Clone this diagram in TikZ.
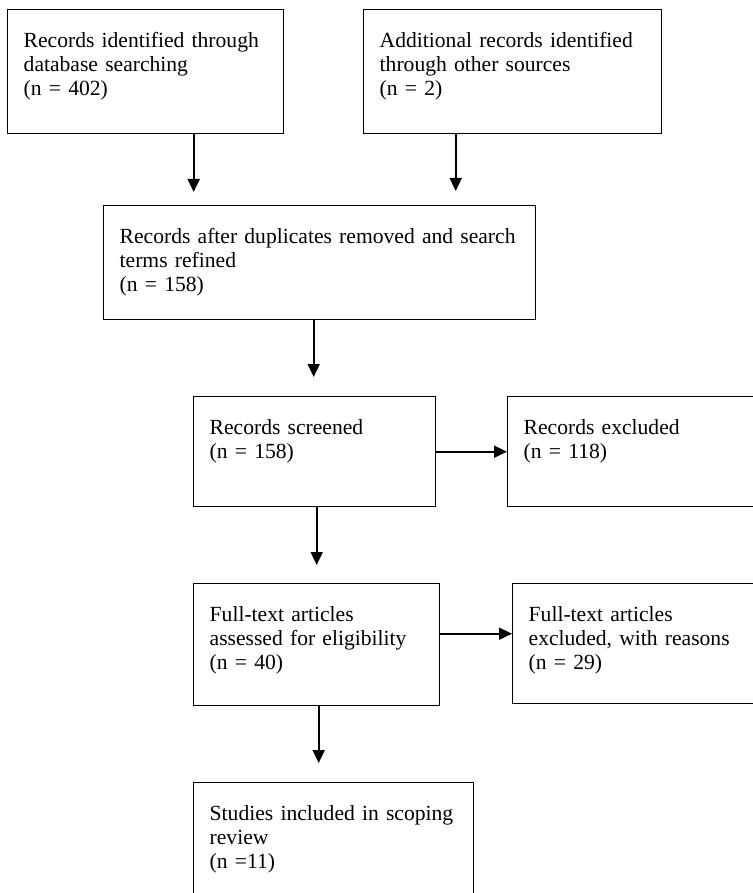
\documentclass[tikz,border=0pt]{standalone}
\usepackage{fontspec}
\setmainfont{Liberation Serif}
\usetikzlibrary{arrows.meta}

\begin{document}
\begin{tikzpicture}[x=0.5pt,y=-0.5pt,>={Triangle[length=6.5pt,width=6pt]},
  box/.style={draw,line width=0.7pt,anchor=north west,align=left,inner xsep=8pt,inner ysep=0pt,
    text height=19pt,font=\fontsize{10.8}{12}\selectfont},
  flow/.style={->,line width=0.9pt}]
\useasboundingbox (0,0) rectangle (753,893);
\node[box,text width=122pt,text depth=43pt] (ident) at (7,9) {Records identified through\\database searching\\(n = 402)};
\node[box,text width=133pt,text depth=43pt] (other) at (363,9) {Additional records identified\\through other sources\\(n = 2)};
\node[box,text width=200pt,text depth=38pt] (dedup) at (103,205) {Records after duplicates removed and search\\terms refined\\(n = 158)};
\node[box,text width=105pt,text depth=36pt] (screen) at (193,396) {Records screened\\(n = 158)};
\node[box,text width=114pt,text depth=36pt] (excl) at (507,396) {Records excluded\\(n = 118)};
\node[box,text width=107pt,text depth=42pt] (full) at (193,583) {Full-text articles\\assessed for eligibility\\(n = 40)};
\node[box,text width=114pt,text depth=41pt] (fullexcl) at (512,583) {Full-text articles\\excluded, with reasons\\(n = 29)};
\node[box,text width=124pt,text depth=46pt] (incl) at (193,782) {Studies included in scoping\\review\\(n =11)};

\draw[flow,shorten >=6.5pt] ([xshift=24pt]ident.south) -- ([xshift=24pt]ident.south |- dedup.north);
\draw[flow,shorten >=7pt] ([xshift=-28.5pt]other.south) -- ([xshift=-28.5pt]other.south |- dedup.north);
\draw[flow,shorten >=9.5pt] ([xshift=-3pt]dedup.south) -- ([xshift=-3pt]dedup.south |- screen.north);
\draw[flow] (screen.east) -- (screen.east -| excl.west);
\draw[flow,shorten >=9pt] ([xshift=1pt]screen.south) -- ([xshift=1pt]screen.south |- full.north);
\draw[flow] ([yshift=5.5pt]full.east) -- ([yshift=5.5pt]full.east -| fullexcl.west);
\draw[flow,shorten >=9.5pt] ([xshift=1pt]full.south) -- ([xshift=1pt]full.south |- incl.north);
\end{tikzpicture}
\end{document}
